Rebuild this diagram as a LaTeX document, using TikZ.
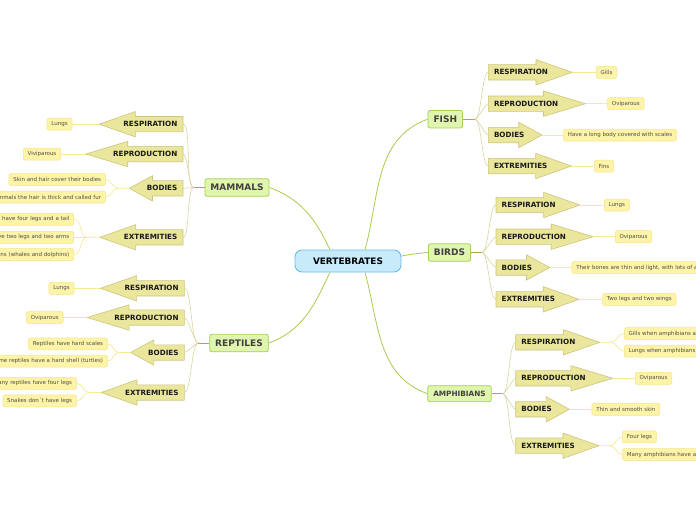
\documentclass[tikz,border=0pt]{standalone}
\usepackage{fontspec}
\setmainfont{DejaVu Sans}
\usetikzlibrary{positioning, calc, backgrounds}

\definecolor{topicfill}{HTML}{C8EBFB}
\definecolor{topicline}{HTML}{66BEE8}
\definecolor{groupfill}{HTML}{E0F5AE}
\definecolor{groupline}{HTML}{A6D152}
\definecolor{branchfill}{HTML}{EAE69C}
\definecolor{branchline}{HTML}{CDC67C}
\definecolor{leaffill}{HTML}{FDF4A8}
\definecolor{leafline}{HTML}{F5E48C}
\definecolor{limbcolor}{HTML}{A9CB4E}
\definecolor{boughcolor}{HTML}{D8D49C}
\definecolor{stemcolor}{HTML}{B2A648}
\definecolor{twigcolor}{HTML}{F6EA94}

\begin{document}
\begin{tikzpicture}[
			x=1pt, y=-1pt,
			topic/.style={rectangle, rounded corners=7pt, draw=topicline, fill=topicfill, line width=0.9pt, minimum width=106pt, minimum height=22pt, font=\fontsize{8.9}{10}\selectfont\bfseries},
			group/.style={rectangle, rounded corners=2pt, draw=groupline, fill=groupfill, line width=0.8pt, inner xsep=5.5pt, inner ysep=0pt, minimum height=17.5pt, text=black!75, font=\fontsize{9}{10}\selectfont\bfseries},
			branch/.style={inner xsep=5.5pt, inner ysep=0pt, minimum height=15pt, text=black!90, font=\fontsize{7.2}{8}\selectfont\bfseries},
			leaf/.style={rectangle, rounded corners=1.5pt, draw=leafline, fill=leaffill, line width=0.5pt, inner xsep=4.4pt, inner ysep=0pt, minimum height=12pt, text=black!70, font=\fontsize{5.5}{6}\selectfont},
			arrowbody/.style={draw=branchline, fill=branchfill, line width=0.6pt, line join=round},
			limb/.style={draw=limbcolor, line width=0.8pt},
			stem/.style={draw=stemcolor, line width=1pt},
			bough/.style={draw=boughcolor, line width=0.6pt},
			twig/.style={draw=twigcolor, line width=0.7pt}
			]
			\useasboundingbox (0,0) rectangle (696,520);
			
			\node[topic] (vert) at (348,261) {VERTEBRATES};
			
			\node[group] (mammals) at (237,187.5) {MAMMALS};
			\node[group] (reptiles) at (239,343) {REPTILES};
			\node[group] (fish) at (445.3,119.2) {FISH};
			\node[group] (birds) at (449.5,252.5) {BIRDS};
			\node[group, minimum height=16pt, font=\fontsize{7.3}{8}\selectfont\bfseries] (amphibians) at (459.5,393.7) {AMPHIBIANS};
			
			% Mammals
			\node[branch, anchor=east] (mresp) at (183,124.2) {RESPIRATION};
			\node[branch, anchor=east] (mrepr) at (183,154) {REPRODUCTION};
			\node[branch, anchor=east] (mbody) at (183,188.3) {BODIES};
			\node[branch, anchor=east] (mextr) at (183,237.3) {EXTREMITIES};
			\node[leaf, anchor=east] (mlungs) at (72.3,124.2) {Lungs};
			\node[leaf, anchor=east] (mvivi) at (61,154) {Viviparous};
			\node[leaf, anchor=east] (mskin) at (105.7,179.5) {Skin and hair cover their bodies};
			\node[leaf, anchor=east, text width=110pt, align=right] (mfur) at (105.7,197) {mmals the hair is thick and called fur};
			\node[leaf, anchor=east, text width=80pt, align=right] (mtail) at (74,219.3) {s have four legs and a tail};
			\node[leaf, anchor=east, text width=80pt, align=right] (marms) at (74,237.3) {ve two legs and two arms};
			\node[leaf, anchor=east, text width=80pt, align=right] (mfins) at (74,254.5) {ins (whales and dolphins)};
			
			% Reptiles
			\node[branch, anchor=east] (rresp) at (184.3,288.3) {RESPIRATION};
			\node[branch, anchor=east] (rrepr) at (184.3,317.5) {REPRODUCTION};
			\node[branch, anchor=east] (rbody) at (184.3,352.5) {BODIES};
			\node[branch, anchor=east] (rextr) at (184.3,392.5) {EXTREMITIES};
			\node[leaf, anchor=east] (rlungs) at (74.3,288.3) {Lungs};
			\node[leaf, anchor=east] (rovi) at (63.3,317.5) {Oviparous};
			\node[leaf, anchor=east] (rscales) at (107.7,343.8) {Reptiles have hard scales};
			\node[leaf, anchor=east, text width=110pt, align=right] (rshell) at (107.7,361.2) {me reptiles have a hard shell (turtles)};
			\node[leaf, anchor=east, text width=80pt, align=right] (rlegs) at (76.7,383.3) {any reptiles have four legs};
			\node[leaf, anchor=east] (rsnakes) at (76.7,400.8) {Snakes don´t have legs};
			
			% Fish
			\node[branch, anchor=west] (fresp) at (488.3,72.3) {RESPIRATION};
			\node[branch, anchor=west] (frepr) at (488.3,103.7) {REPRODUCTION};
			\node[branch, anchor=west] (fbody) at (488.3,135) {BODIES};
			\node[branch, anchor=west] (fextr) at (488.3,166) {EXTREMITIES};
			\node[leaf, anchor=west] (fgills) at (596,72.3) {Gills};
			\node[leaf, anchor=west] (fovi) at (607.3,103.7) {Oviparous};
			\node[leaf, anchor=west] (fscales) at (563.3,135) {Have a long body covered with scales};
			\node[leaf, anchor=west] (ffins) at (594,166) {Fins};
			
			% Birds
			\node[branch, anchor=west] (bresp) at (496,205) {RESPIRATION};
			\node[branch, anchor=west] (brepr) at (496,236.7) {REPRODUCTION};
			\node[branch, anchor=west] (bbody) at (496,267.5) {BODIES};
			\node[branch, anchor=west] (bextr) at (496,299.3) {EXTREMITIES};
			\node[leaf, anchor=west] (blungs) at (604,205) {Lungs};
			\node[leaf, anchor=west] (bovi) at (615,236.7) {Oviparous};
			\node[leaf, anchor=west, text width=130pt, align=left] (bbones) at (571.7,267.5) {Their bones are thin and light, with lots of a};
			\node[leaf, anchor=west] (bwings) at (602.3,299.3) {Two legs and two wings};
			
			% Amphibians
			\node[branch, anchor=west] (aresp) at (515.7,342.3) {RESPIRATION};
			\node[branch, anchor=west] (arepr) at (515.7,378.3) {REPRODUCTION};
			\node[branch, anchor=west] (abody) at (515.7,409.3) {BODIES};
			\node[branch, anchor=west] (aextr) at (515.7,445.7) {EXTREMITIES};
			\node[leaf, anchor=west, text width=80pt, align=left] (agills) at (624,333.7) {Gills when amphibians a};
			\node[leaf, anchor=west, text width=80pt, align=left] (alungs) at (624,351.2) {Lungs when amphibians};
			\node[leaf, anchor=west] (aovi) at (635,378.3) {Oviparous};
			\node[leaf, anchor=west] (askin) at (591.7,409.3) {Thin and smooth skin};
			\node[leaf, anchor=west] (alegs) at (622.3,436.8) {Four legs};
			\node[leaf, anchor=west, text width=80pt, align=left] (atail) at (622.3,454.5) {Many amphibians have a};
			
			% arrow shapes behind the branch labels
			\begin{scope}[on background layer]
				\foreach \n/\a/\b in {mresp/east/west, mrepr/east/west, mbody/east/west, mextr/east/west,
					rresp/east/west, rrepr/east/west, rbody/east/west, rextr/east/west,
					fresp/west/east, frepr/west/east, fbody/west/east, fextr/west/east,
					bresp/west/east, brepr/west/east, bbody/west/east, bextr/west/east,
					aresp/west/east, arepr/west/east, abody/west/east, aextr/west/east}
				\draw[arrowbody] (\n.north \a) -- ($(\n.north \a)!0.73!(\n.north \b)$)
					-- ($(\n.north \a)!0.73!(\n.north \b)+(0,-5)$)
					-- ($(\n.\a)!1.285!(\n.\b)$) coordinate (\n-tip)
					-- ($(\n.south \a)!0.73!(\n.south \b)+(0,5)$)
					-- ($(\n.south \a)!0.73!(\n.south \b)$) -- (\n.south \a) -- cycle;
			\end{scope}
			
			% topic to groups
			\draw[limb] ($(vert.north west)!0.33!(vert.north east)$) to[out=115, in=-20] (mammals.east);
			\draw[limb] ($(vert.south west)!0.33!(vert.south east)$) to[out=-115, in=20] (reptiles.east);
			\draw[limb] ($(vert.north west)!0.66!(vert.north east)$) to[out=75, in=200] (fish.west);
			\draw[limb] ([yshift=5pt]vert.east) to[out=10, in=185] (birds.west);
			\draw[limb] ($(vert.south west)!0.66!(vert.south east)$) to[out=-75, in=160] (amphibians.west);
			
			% groups to branches
			\coordinate (m-fork) at ([xshift=-11pt]mammals.west);
			\coordinate (r-fork) at ([xshift=-11pt]reptiles.west);
			\coordinate (f-fork) at ([xshift=12pt]fish.east);
			\coordinate (b-fork) at ([xshift=11pt]birds.east);
			\coordinate (a-fork) at ([xshift=11pt]amphibians.east);
			\foreach \g/\p in {mammals/m, reptiles/r} {
				\draw[stem] (\g.west) -- (\p-fork);
				\foreach \k in {resp, repr, body, extr}
				\draw[bough] (\p-fork) to[out=180, in=0, looseness=0.35] (\p\k.east);
			}
			\foreach \g/\p in {fish/f, birds/b, amphibians/a} {
				\draw[stem] (\g.east) -- (\p-fork);
				\foreach \k in {resp, repr, body, extr}
				\draw[bough] (\p-fork) to[out=0, in=180, looseness=0.35] (\p\k.west);
			}
			
			% branches to leaves
			\draw[twig] (mresp-tip) -- (mlungs.east);
			\draw[twig] (mrepr-tip) -- (mvivi.east);
			\coordinate (mbody-fork) at ([xshift=-11pt]mbody-tip);
			\draw[twig] (mbody-tip) -- (mbody-fork) to[out=180, in=0] (mskin.east);
			\draw[twig] (mbody-fork) to[out=180, in=0] (mfur.east);
			\coordinate (mextr-fork) at ([xshift=-12pt]mextr-tip);
			\draw[twig] (mextr-tip) -- (mextr-fork) to[out=180, in=0] (mtail.east);
			\draw[twig] (mextr-fork) -- (marms.east);
			\draw[twig] (mextr-fork) to[out=180, in=0] (mfins.east);
			
			\draw[twig] (rresp-tip) -- (rlungs.east);
			\draw[twig] (rrepr-tip) -- (rovi.east);
			\coordinate (rbody-fork) at ([xshift=-12pt]rbody-tip);
			\draw[twig] (rbody-tip) -- (rbody-fork) to[out=180, in=0] (rscales.east);
			\draw[twig] (rbody-fork) to[out=180, in=0] (rshell.east);
			\coordinate (rextr-fork) at ([xshift=-12pt]rextr-tip);
			\draw[twig] (rextr-tip) -- (rextr-fork) to[out=180, in=0] (rlegs.east);
			\draw[twig] (rextr-fork) to[out=180, in=0] (rsnakes.east);
			
			\draw[twig] (fresp-tip) -- (fgills.west);
			\draw[twig] (frepr-tip) -- (fovi.west);
			\draw[twig] (fbody-tip) -- (fscales.west);
			\draw[twig] (fextr-tip) -- (ffins.west);
			
			\draw[twig] (bresp-tip) -- (blungs.west);
			\draw[twig] (brepr-tip) -- (bovi.west);
			\draw[twig] (bbody-tip) -- (bbones.west);
			\draw[twig] (bextr-tip) -- (bwings.west);
			
			\coordinate (aresp-fork) at ([xshift=11pt]aresp-tip);
			\draw[twig] (aresp-tip) -- (aresp-fork) to[out=0, in=180] (agills.west);
			\draw[twig] (aresp-fork) to[out=0, in=180] (alungs.west);
			\draw[twig] (arepr-tip) -- (aovi.west);
			\draw[twig] (abody-tip) -- (askin.west);
			\coordinate (aextr-fork) at ([xshift=11pt]aextr-tip);
			\draw[twig] (aextr-tip) -- (aextr-fork) to[out=0, in=180] (alegs.west);
			\draw[twig] (aextr-fork) to[out=0, in=180] (atail.west);
		\end{tikzpicture}
\end{document}
